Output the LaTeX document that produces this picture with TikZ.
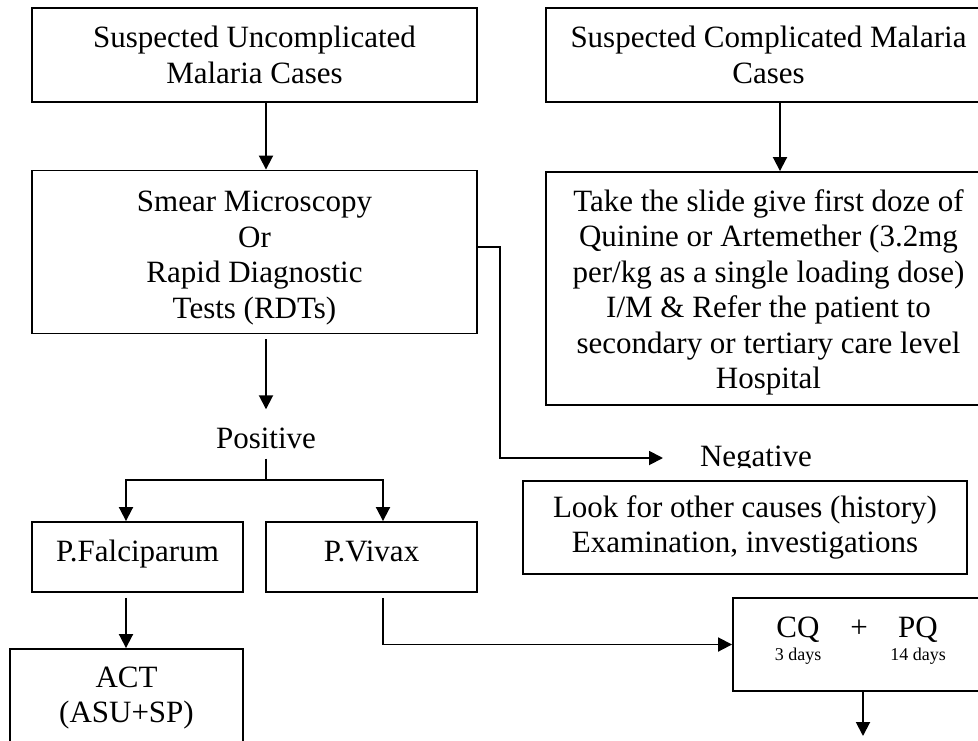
\documentclass[tikz,border=0pt]{standalone}
\usepackage{fontspec}
\setmainfont{Liberation Serif}
\usetikzlibrary{arrows.meta,calc}
\begin{document}
\begin{tikzpicture}[x=1pt,y=-1pt,
  box/.style={draw, line width=1.9pt, inner sep=0pt, align=center, font=\fontsize{31}{35.5}\selectfont},
  lbl/.style={inner sep=0pt, font=\fontsize{31}{35.5}\selectfont},
  small/.style={inner sep=0pt, font=\fontsize{18}{20}\selectfont},
  arr/.style={line width=1.9pt, -{Triangle[length=14pt,width=14pt]}},
  ln/.style={line width=1.9pt}]
\useasboundingbox (0,0) rectangle (978,740);
\clip (0,0) rectangle (978,740);
% helper x positions
\coordinate (cL) at (266,0);
\coordinate (cR) at (780,0);
\coordinate (cF) at (126,0);
\coordinate (cV) at (383,0);
\coordinate (cQ) at (863,0);
% boxes
\node[box, minimum width=445pt, minimum height=94pt] (b1) at (254.5,55)
  {Suspected Uncomplicated\\Malaria Cases};
\node[box, minimum width=445pt, minimum height=163pt] (smear) at (254.5,252)
  {\rule{0pt}{33pt}Smear Microscopy\\Or\\Rapid Diagnostic\\Tests (RDTs)};
\node[box, minimum width=445pt, minimum height=94pt] (comp) at (768.5,55)
  {Suspected Complicated Malaria\\Cases};
\node[box, minimum width=445pt, minimum height=233pt] (take) at (768.5,288.5)
  {\rule{0pt}{30pt}Take the slide give first doze of\\Quinine or Artemether (3.2mg\\per/kg as a single loading dose)\\I/M \& Refer the patient to\\secondary or tertiary care level\\Hospital};
\node[box, minimum width=211pt, minimum height=70pt, text height=21pt, text depth=13pt] (falc) at (137.5,557) {P.Falciparum};
\node[box, minimum width=211pt, minimum height=70pt, text height=21pt, text depth=13pt] (viv) at (371.5,557) {P.Vivax};
\node[box, minimum width=233pt, minimum height=98pt] (act) at (126.5,698) {ACT\\(ASU+SP)};
\node[box, minimum width=444pt, minimum height=93pt] (look) at (745,527.5)
  {Look for other causes (history)\\Examination, investigations};
\node[box, minimum width=256pt, minimum height=93pt] (cq) at (861,644.5) {};
\node[lbl, anchor=base] (cqt) at (798,637) {CQ};
\node[lbl, anchor=base] (plus) at (859,637) {+};
\node[lbl, anchor=base] (pqt) at (918,637) {PQ};
\node[small, anchor=base] (d3) at (798,660) {3 days};
\node[small, anchor=base] (d14) at (918,660) {14 days};
% labels
\node[lbl, anchor=base, inner ysep=10pt] (pos) at (266,448) {Positive};
\begin{scope}
  \clip (600,420) rectangle (900,467);
  \node[lbl, anchor=base] (neg) at (756,466) {Negative};
\end{scope}
\coordinate (split) at (266,480);
\coordinate (negtip) at (663,458);
\coordinate (cqend) at (863,736);
% connectors
\draw[arr] (b1.south -| cL) -- (smear.north -| cL);
\draw[arr] (comp.south -| cR) -- (take.north -| cR);
\draw[arr] ($(smear.south -| cL)+(0,5)$) -- ($(pos.north)+(0,-8)$);
\draw[ln] (pos.south) -- (split);
\draw[arr] (split) -| (falc.north -| cF);
\draw[arr] (split) -| (viv.north -| cV);
\draw[arr] ($(falc.south -| cF)+(0,5)$) -- (act.north -| cF);
\draw[arr] ($(viv.south -| cV)+(0,5)$) |- (cq.west);
\draw[arr] (cq.south -| cQ) -- (cqend);
\draw[arr] ($(smear.east)+(0,-5)$) -- ++(22,0) |- (negtip);
\end{tikzpicture}
\end{document}
